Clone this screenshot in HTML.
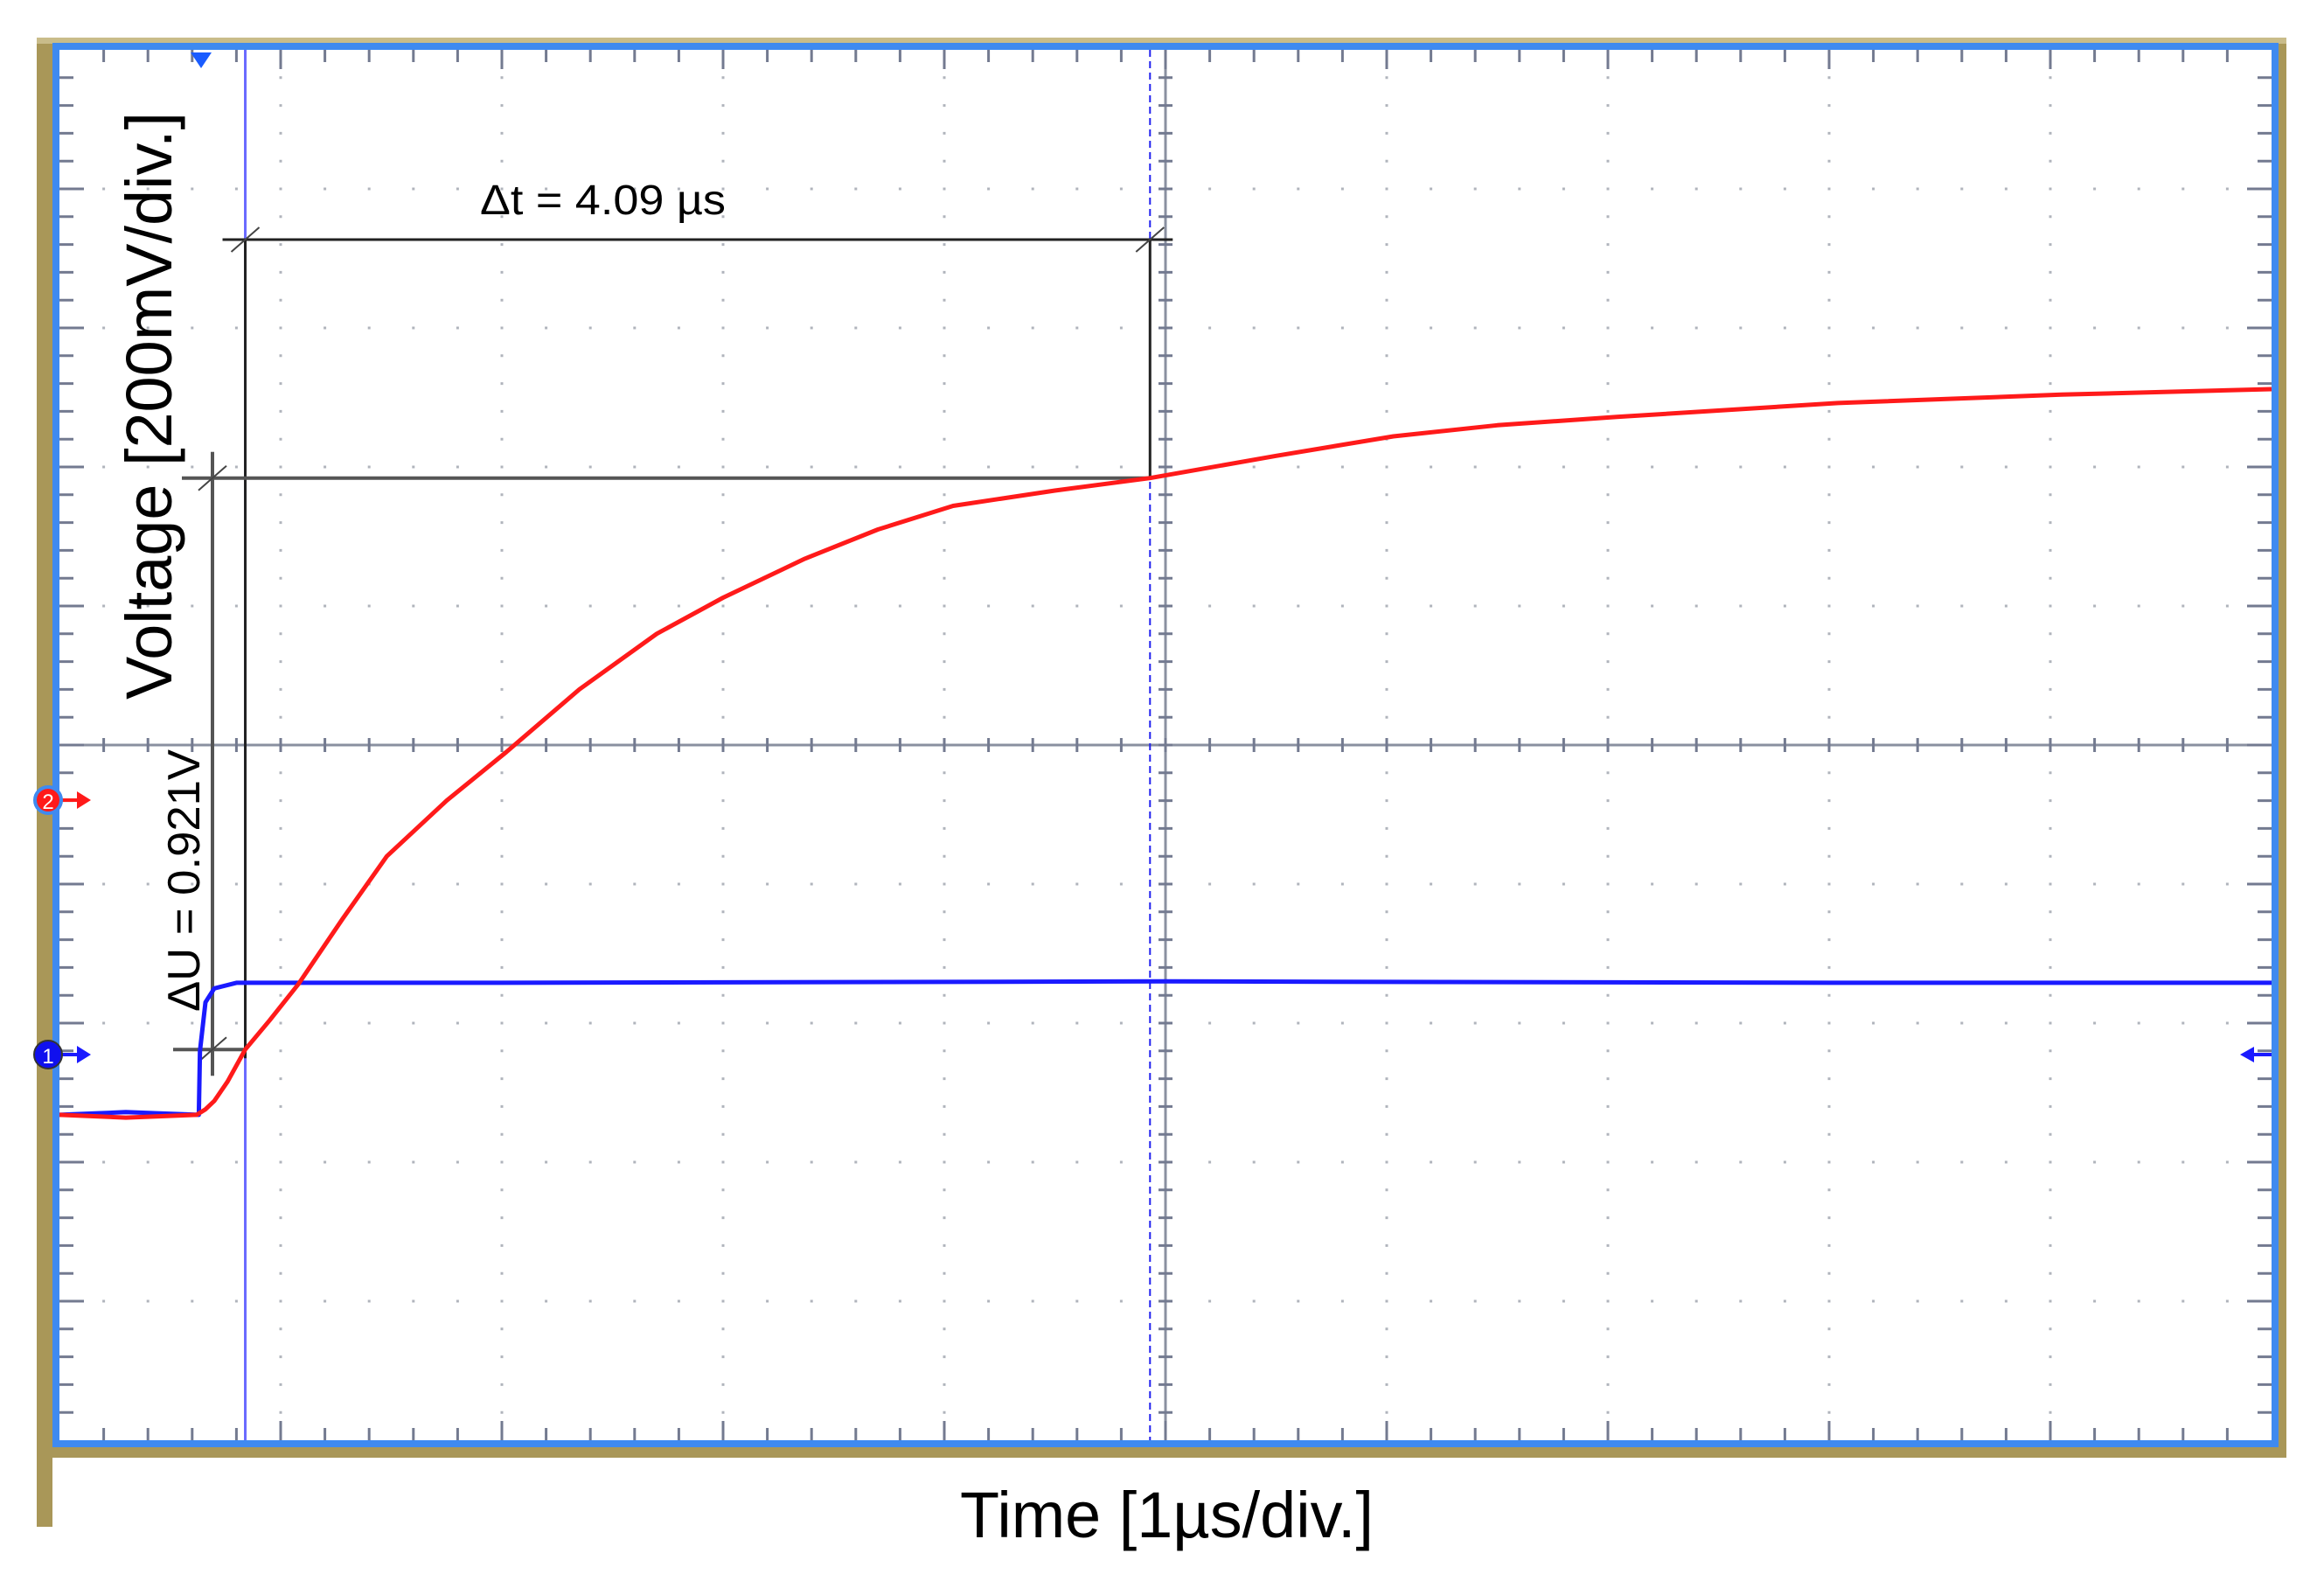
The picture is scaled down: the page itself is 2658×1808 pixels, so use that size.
<!DOCTYPE html>
<html><head><meta charset="utf-8"><style>
html,body{margin:0;padding:0;background:#fff;}
svg{display:block;}
text{font-family:"Liberation Sans",Arial,sans-serif;fill:#000;}
</style></head><body>
<svg id="chart" width="2658" height="1808" viewBox="0 0 2658 1808" xmlns="http://www.w3.org/2000/svg">
<g id="frame">
<rect x="42" y="43" width="18" height="1703" fill="#a99758"/>
<rect x="42" y="1655" width="2573" height="12" fill="#a99758"/>
<rect x="2600" y="48" width="15" height="1619" fill="#a99758"/>
<rect x="42" y="43" width="2573" height="7" fill="#c9bc8a"/>
<rect x="64" y="53" width="2538" height="1598" fill="#fff" stroke="#3f8af0" stroke-width="8"/>
</g>
<g id="grid"></g>
<g id="cursors"></g>
<g id="traces"></g>
<g id="labels">
<text x="549" y="245" font-size="48" textLength="281" lengthAdjust="spacingAndGlyphs">Δt = 4.09 µs</text>
<text transform="translate(196,800) rotate(-90)" x="0" y="0" font-size="74" textLength="672" lengthAdjust="spacingAndGlyphs">Voltage [200mV/div.]</text>
<text transform="translate(228,1157) rotate(-90)" x="0" y="0" font-size="52" textLength="300" lengthAdjust="spacingAndGlyphs">ΔU = 0.921V</text>
<text x="1098" y="1758" font-size="74" textLength="473" lengthAdjust="spacingAndGlyphs">Time [1µs/div.]</text>
</g>
<g id="markers">
<polygon points="218,60 242,60 230,78" fill="#1a5cff"/>
<g>
<line x1="60" y1="915" x2="92" y2="915" stroke="#ff1a1a" stroke-width="4"/>
<polygon points="88,905 104,915 88,925" fill="#ff1a1a"/>
<circle cx="55" cy="915" r="15" fill="#ff1a1a" stroke="#3f8af0" stroke-width="4"/>
<text x="55" y="925" font-size="24" text-anchor="middle" style="fill:#fff">2</text>
</g>
<g>
<line x1="60" y1="1206" x2="92" y2="1206" stroke="#1a1aff" stroke-width="4"/>
<polygon points="88,1196 104,1206 88,1216" fill="#1a1aff"/>
<circle cx="55" cy="1206" r="16" fill="#1010ee" stroke="#333" stroke-width="2"/>
<text x="55" y="1216" font-size="24" text-anchor="middle" style="fill:#fff">1</text>
</g>
<g>
<line x1="2575" y1="1206" x2="2598" y2="1206" stroke="#1a1aff" stroke-width="4"/>
<polygon points="2578,1197 2562,1206 2578,1215" fill="#1a1aff"/>
</g>
</g>
</svg>
<script>
// time in µs from left edge of screen; values in divisions relative to center line
const redTimes = [0, 0.3, 0.62, 0.66, 0.70, 0.76, 0.84, 0.95, 1.08, 1.28, 1.48, 1.75, 2.02, 2.35, 2.70, 3.0, 3.37, 3.7, 4.04, 4.5, 4.93, 5.5, 6.03, 6.5, 7.04, 8.04, 9.05, 10];
const redValues = [-2.66, -2.68, -2.66, -2.62, -2.56, -2.42, -2.19, -1.98, -1.72, -1.25, -0.80, -0.40, -0.05, 0.40, 0.80, 1.06, 1.34, 1.55, 1.72, 1.83, 1.92, 2.08, 2.22, 2.30, 2.36, 2.46, 2.52, 2.56];
const blueTimes = [0, 0.3, 0.63, 0.635, 0.66, 0.70, 0.80, 2, 5, 8, 10];
const blueValues = [-2.66, -2.64, -2.66, -2.20, -1.85, -1.75, -1.71, -1.71, -1.70, -1.71, -1.71];
const cursorTimes = [0.84, 4.93];
const cursorLevels = [-2.19, 1.92];

const X0 = 68, DIVX = 253, YC = 852, DIVY = 159, NX = 10, NY = 10;
const TOP = YC - 5 * DIVY, BOT = YC + 5 * DIVY, RIGHT = X0 + NX * DIVX;
function xs(t){ return X0 + t * DIVX; }
function ys(v){ return YC - v * DIVY; }
const NS = 'http://www.w3.org/2000/svg';
function mk(parent, tag, attrs){
  const el = document.createElementNS(NS, tag);
  for (const k in attrs) el.setAttribute(k, attrs[k]);
  parent.appendChild(el);
  return el;
}
const grid = document.getElementById('grid');
for (let i = 1; i < NX; i++) {
  if (i === 5) continue;
  const l = mk(grid, 'line', {x1: xs(i), y1: TOP, x2: xs(i), y2: BOT, stroke: '#b0b4bc', 'stroke-width': 3, 'stroke-dasharray': '3 ' + (DIVY/5 - 3), 'stroke-dashoffset': 1.5});
  
  
}
for (let j = -4; j <= 4; j++) {
  if (j === 0) continue;
  const l = mk(grid, 'line', {x1: X0, y1: ys(j), x2: RIGHT, y2: ys(j), stroke: '#b0b4bc', 'stroke-width': 3, 'stroke-dasharray': '3 ' + (DIVX/5 - 3), 'stroke-dashoffset': 1.5});
  
  
}
const ca = mk(grid, 'line', {x1: X0, y1: YC, x2: RIGHT, y2: YC, stroke: '#8a90a0', 'stroke-width': 3});


const cb = mk(grid, 'line', {x1: xs(5), y1: TOP, x2: xs(5), y2: BOT, stroke: '#8a90a0', 'stroke-width': 3});


let d = '';
for (let k = 1; k < NX * 5; k++) {
  const x = X0 + k * DIVX / 5, L = (k % 5 === 0) ? 22 : 14;
  d += `M${x} ${TOP}v${L}M${x} ${BOT}v${-L}M${x} ${YC-8}v16`;
}
for (let k = 1; k < NY * 5; k++) {
  const y = TOP + k * DIVY / 5, L = (k % 5 === 0) ? 28 : 16;
  d += `M${X0} ${y}h${L}M${RIGHT} ${y}h${-L}M${xs(5)-8} ${y}h16`;
}
const tk = mk(grid, 'path', {d: d, stroke: '#737a90', 'stroke-width': 3, fill: 'none'});



const cur = document.getElementById('cursors');
const c1 = mk(cur, 'line', {x1: xs(cursorTimes[0]), y1: TOP, x2: xs(cursorTimes[0]), y2: BOT, stroke: '#6a6aff', 'stroke-width': 3});


const c2 = mk(cur, 'line', {x1: xs(cursorTimes[1]), y1: TOP, x2: xs(cursorTimes[1]), y2: BOT, stroke: '#2222ee', 'stroke-width': 2, 'stroke-dasharray': '8 5'});


const yDt = 274, xDu = 243;
const m1 = mk(cur, 'path', {d: `M${xs(cursorTimes[0])-26} ${yDt}H${xs(cursorTimes[1])+26}M${xs(cursorTimes[1])} ${yDt}V${ys(cursorLevels[1])}M${xs(cursorTimes[0])} ${yDt}V${ys(cursorLevels[0])+10}`, stroke: '#222', 'stroke-width': 3, fill: 'none'});


const m2 = mk(cur, 'path', {d: `M${xDu-35} ${ys(cursorLevels[1])}H${xs(cursorTimes[1])}M${xDu-45} ${ys(cursorLevels[0])}H${xs(cursorTimes[0])}M${xDu} ${ys(cursorLevels[1])-30}V${ys(cursorLevels[0])+30}`, stroke: '#555', 'stroke-width': 4, fill: 'none'});


let sl = '';
[[xs(cursorTimes[0]), yDt], [xs(cursorTimes[1]), yDt], [xDu, ys(cursorLevels[1])], [xDu, ys(cursorLevels[0])]].forEach(p => { sl += `M${p[0]-16} ${p[1]+14}L${p[0]+16} ${p[1]-14}`; });
const sm = mk(cur, 'path', {d: sl, stroke: '#444', 'stroke-width': 2, fill: 'none'});



const tr = document.getElementById('traces');
function pts(ts, vs){ return ts.map((t, i) => xs(t).toFixed(1) + ',' + ys(vs[i]).toFixed(1)).join(' '); }
const b = mk(tr, 'polyline', {points: pts(blueTimes, blueValues), fill: 'none', stroke: '#1a1aff', 'stroke-width': 5, 'stroke-linejoin': 'round'});


const r = mk(tr, 'polyline', {points: pts(redTimes, redValues), fill: 'none', stroke: '#ff1a1a', 'stroke-width': 5, 'stroke-linejoin': 'round'});


</script>
</body></html>
